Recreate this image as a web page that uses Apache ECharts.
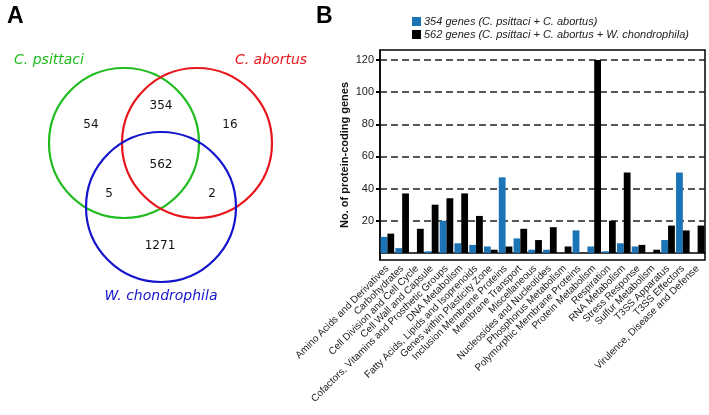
<!DOCTYPE html>
<html>
<head>
<meta charset="utf-8">
<script src="https://cdn.jsdelivr.net/npm/echarts@6/dist/echarts.min.js"></script>
<style>
  html, body { margin: 0; padding: 0; background: #fff; }
  #chart { width: 709px; height: 415px; }
</style>
</head>
<body>
<div id="chart"></div>
<script>
// venn counts, one per region
const vennRegions = ['C. psittaci only', 'C. psittaci + C. abortus', 'C. abortus only', 'all three', 'C. psittaci + W. chondrophila', 'C. abortus + W. chondrophila', 'W. chondrophila only']
const vennCounts = [54, 354, 16, 562, 5, 2, 1271]
const vennSets = ['C. psittaci', 'C. abortus', 'W. chondrophila']

// bar chart data
const categories = [
  'Amino Acids and Derivatives', 'Carbohydrates', 'Cell Division and Cell Cycle',
  'Cell Wall and Capsule', 'Cofactors, Vitamins and Prosthetic Groups', 'DNA Metabolism',
  'Fatty Acids, Lipids and Isoprenoids', 'Genes within Plasticity Zone',
  'Inclusion Membrane Proteins', 'Membrane Transport', 'Miscellaneous',
  'Nucleosides and Nucleotides', 'Phosphorus Metabolism', 'Polymorphic Membrane Proteins',
  'Protein Metabolism', 'Respiration', 'RNA Metabolism', 'Stress Response',
  'Sulfur Metabolism', 'T3SS Apparatus', 'T3SS Effectors', 'Virulence, Disease and Defense'
]
const genes354 = [10, 3, 0, 1, 20, 6, 5, 4, 47, 9, 2, 2, 0, 14, 4, 1, 6, 4, 0, 8, 50, 0]
const genes562 = [12, 37, 15, 30, 34, 37, 23, 2, 4, 15, 8, 16, 4, 0, 120, 20, 50, 5, 2, 17, 14, 17]
const yTicks = [20, 40, 60, 80, 100, 120]
const seriesNames = ['354 genes (C. psittaci + C. abortus)', '562 genes (C. psittaci + C. abortus + W. chondrophila)']

// layout of the venn panel (pixel-like units in a hidden grid)
const circleLayout = [[124, 143], [197, 143], [161, 207]]
const circleColors = ['#1fbb1f', '#e8161c', '#1414cc']
const regionLayout = [[91, 125], [161, 106], [230, 125], [161, 165], [109, 194], [212, 194], [160, 246]]
const setLabelLayout = [[49, 60], [271, 60], [161, 296]]

const chart = echarts.init(document.getElementById('chart'))
const blue = '#1a74b6'

chart.setOption({
  animation: false,
  textStyle: { fontFamily: 'Liberation Sans' },
  title: [
    { text: 'A', left: 2, top: 0, textStyle: { fontSize: 23, fontWeight: 'bold', color: '#000' } },
    { text: 'B', left: 311, top: 0, textStyle: { fontSize: 23, fontWeight: 'bold', color: '#000' } }
  ],
  legend: {
    data: seriesNames,
    orient: 'vertical',
    left: 407,
    top: 11,
    itemWidth: 9,
    itemHeight: 9,
    itemGap: 2,
    icon: 'rect',
    textStyle: { fontSize: 11, fontStyle: 'italic', color: '#222', padding: [0, 0, 0, -2] }
  },
  grid: [
    { left: 380, right: 4, top: 50, bottom: 155, show: true, borderColor: '#000', borderWidth: 1.5 },
    { left: 0, top: 0, width: 340, height: 340 }
  ],
  xAxis: [
    {
      type: 'category',
      data: categories,
      gridIndex: 0,
      axisLine: { lineStyle: { color: '#000', width: 1.5 } },
      axisTick: { alignWithLabel: true, length: 5, lineStyle: { color: '#000', width: 2 } },
      axisLabel: { rotate: 45, fontSize: 10, color: '#222', margin: 7, interval: 0 }
    },
    { type: 'value', gridIndex: 1, min: 0, max: 340, show: false }
  ],
  yAxis: [
    {
      type: 'value',
      gridIndex: 0,
      min: -4.4,
      max: 126.2,
      name: 'No. of protein-coding genes',
      nameLocation: 'middle',
      nameGap: 30,
      nameTextStyle: { fontSize: 11, fontWeight: 'bold', color: '#111' },
      axisLine: { show: true, lineStyle: { color: '#000', width: 1.5 } },
      axisTick: { show: true, length: 4, customValues: yTicks, lineStyle: { color: '#000', width: 2 } },
      axisLabel: { fontSize: 11, color: '#222', margin: 6, customValues: yTicks },
      splitLine: { show: true, lineStyle: { color: '#222', width: 1.5, type: [7, 4] } }
    },
    { type: 'value', gridIndex: 1, min: 0, max: 340, inverse: true, show: false }
  ],
  series: [
    {
      name: seriesNames[0],
      type: 'bar',
      data: genes354,
      itemStyle: { color: blue },
      barGap: '0%',
      barCategoryGap: '8%'
    },
    {
      name: seriesNames[1],
      type: 'bar',
      data: genes562,
      itemStyle: { color: '#000' },
      barGap: '0%',
      barCategoryGap: '8%'
    },
    {
      // venn circles
      type: 'custom',
      xAxisIndex: 1,
      yAxisIndex: 1,
      silent: true,
      data: vennSets.map((s, i) => [circleLayout[i][0], circleLayout[i][1], 75, i]),
      renderItem: (params, api) => {
        const c = api.coord([api.value(0), api.value(1)])
        const r = api.size([api.value(2), 0])[0]
        return {
          type: 'circle',
          shape: { cx: c[0], cy: c[1], r: r },
          style: { fill: 'none', stroke: circleColors[api.value(3)], lineWidth: 2.2 }
        }
      }
    },
    {
      // region counts
      type: 'scatter',
      xAxisIndex: 1,
      yAxisIndex: 1,
      silent: true,
      symbolSize: 0,
      itemStyle: { opacity: 1 },
      data: vennCounts.map((v, i) => ({ name: vennRegions[i], value: [regionLayout[i][0], regionLayout[i][1], v] })),
      label: {
        show: true,
        position: 'inside',
        formatter: p => p.value[2],
        fontFamily: 'DejaVu Sans',
        fontSize: 12,
        color: '#111'
      }
    },
    {
      // set names
      type: 'scatter',
      xAxisIndex: 1,
      yAxisIndex: 1,
      silent: true,
      symbolSize: 0,
      itemStyle: { opacity: 1 },
      data: vennSets.map((s, i) => ({
        name: s,
        value: [setLabelLayout[i][0], setLabelLayout[i][1]],
        label: { color: circleColors[i] }
      })),
      label: {
        show: true,
        position: 'inside',
        formatter: p => p.name,
        fontFamily: 'DejaVu Sans',
        fontStyle: 'italic',
        fontSize: 14
      }
    }
  ]
})
</script>
</body>
</html>
